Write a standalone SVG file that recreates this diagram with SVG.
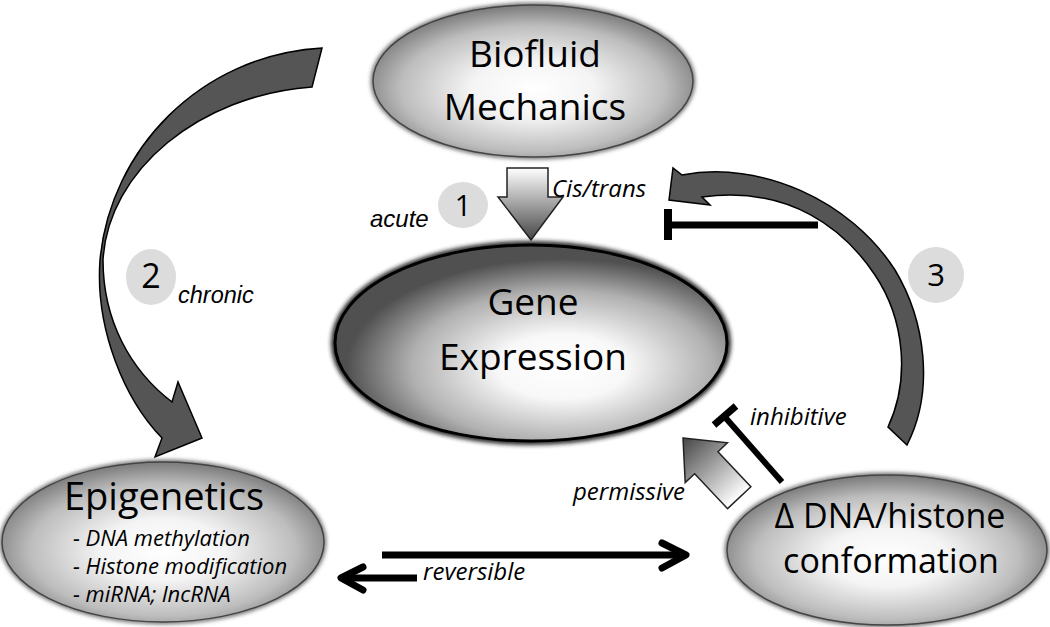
<svg xmlns="http://www.w3.org/2000/svg" width="1050" height="627" viewBox="0 0 1050 627">
<style>
.node{font-family:"Open Sans","Liberation Sans",sans-serif;fill:#000;text-anchor:middle}
.lab{font-family:"Open Sans","Liberation Sans",sans-serif;font-style:italic;fill:#000}
.lab2{font-family:"Liberation Sans",Arial,sans-serif;font-style:italic;fill:#000}
.num{font-family:"Open Sans","Liberation Sans",sans-serif;fill:#000;text-anchor:middle}
.badge{fill:#dcdcdc}
.curve{fill:#555;stroke:#000;stroke-width:1.5;stroke-linejoin:miter}
.line{stroke:#000;stroke-width:7;fill:none}
.chev{stroke:#000;stroke-width:7;fill:none;stroke-linecap:round;stroke-linejoin:round}
.halo{fill:none;filter:url(#blur)}
</style>
<defs>
<filter id="blur" x="-10%" y="-10%" width="120%" height="120%"><feGaussianBlur stdDeviation="2"/></filter>
<radialGradient id="gLight" cx="0.5" cy="0.55" r="0.55">
<stop offset="0" stop-color="#ffffff"/><stop offset="0.35" stop-color="#f4f4f4"/><stop offset="0.75" stop-color="#bdbdbd"/><stop offset="1" stop-color="#7a7a7a"/>
</radialGradient>
<radialGradient id="gDark" cx="0.58" cy="0.62" r="0.55">
<stop offset="0" stop-color="#ffffff"/><stop offset="0.3" stop-color="#f8f8f8"/><stop offset="0.7" stop-color="#b0b0b0"/><stop offset="1" stop-color="#505050"/>
</radialGradient>
<linearGradient id="gDown" x1="0" y1="0" x2="0" y2="1">
<stop offset="0" stop-color="#ffffff"/><stop offset="1" stop-color="#454545"/>
</linearGradient>
<linearGradient id="gUp" x1="0" y1="1" x2="0" y2="0">
<stop offset="0" stop-color="#ffffff"/><stop offset="1" stop-color="#454545"/>
</linearGradient>
</defs>

<g id="connectors">
<path class="curve" d="M322,48 C200,55 110,150 100,260 C95,330 125,400 162,438 L155,457 L202,438 L178,382 L172,402 C130,370 103,320 103,260 C108,170 200,95 312,87 Z"/>
<path class="curve" d="M682,175 C760,160 850,200 895,270 C925,320 935,390 907,445 L888,427 C910,380 905,320 875,275 C845,230 790,185 702,197 L710,205 L669,200 L673,168 Z"/>
<line class="line" x1="668" y1="225" x2="818" y2="225"/>
<line x1="668" y1="209" x2="668" y2="240" stroke="#000" stroke-width="8"/>
<path d="M507,168 L548,168 L548,197 L563,197 L531,240 L498,197 L507,197 Z" fill="url(#gDown)" stroke="#222" stroke-width="1.5"/>
<path transform="translate(683,438) rotate(-43.3)" d="M0,0 L29,34 L16,34 L16,82 L-16,82 L-16,34 L-29,34 Z" fill="url(#gUp)" stroke="#222" stroke-width="1.5"/>
<line x1="782" y1="482" x2="724" y2="416" stroke="#000" stroke-width="6"/>
<line x1="714" y1="425" x2="736" y2="406" stroke="#000" stroke-width="7"/>
<line class="line" x1="382" y1="555" x2="683" y2="555"/>
<polyline class="chev" points="662,543 686,555 662,568"/>
<line class="line" x1="417" y1="578" x2="344" y2="578"/>
<polyline class="chev" points="363,567 341,578 363,590"/>
</g>

<g id="badge1"><ellipse class="badge" cx="463" cy="205" rx="25" ry="23"/><text class="num" x="463" y="216" font-size="29">1</text></g>
<g id="badge2"><ellipse class="badge" cx="151" cy="277" rx="25" ry="28"/><text class="num" x="151" y="288" font-size="34">2</text></g>
<g id="badge3"><ellipse class="badge" cx="936" cy="275" rx="28" ry="28"/><text class="num" x="936" y="286" font-size="31">3</text></g>

<g id="biofluid">
<ellipse class="halo" cx="533" cy="81" rx="160" ry="76" stroke="#555" stroke-width="4"/>
<ellipse cx="533" cy="81" rx="160" ry="76" fill="url(#gLight)" stroke="#444" stroke-width="1.5"/>
<text class="node" x="535" y="67" font-size="37">Biofluid</text>
<text class="node" x="535" y="120" font-size="37">Mechanics</text>
</g>

<g id="gene">
<ellipse class="halo" cx="531" cy="343" rx="197" ry="99" stroke="#222" stroke-width="6"/>
<ellipse cx="531" cy="343" rx="196" ry="98" fill="url(#gDark)" stroke="#000" stroke-width="3"/>
<text class="node" x="533" y="315" font-size="37">Gene</text>
<text class="node" x="533" y="370" font-size="37">Expression</text>
</g>

<g id="epigenetics">
<ellipse class="halo" cx="163" cy="542" rx="161" ry="80" stroke="#555" stroke-width="4"/>
<ellipse cx="163" cy="542" rx="161" ry="80" fill="url(#gLight)" stroke="#444" stroke-width="1.5"/>
<text class="node" x="164" y="510" font-size="38">Epigenetics</text>
<text class="lab" x="73" y="546" font-size="22">- DNA methylation</text>
<text class="lab" x="73" y="574" font-size="22">- Histone modification</text>
<text class="lab" x="73" y="602" font-size="22">- miRNA; lncRNA</text>
</g>

<g id="dna">
<ellipse class="halo" cx="887" cy="550" rx="160" ry="75" stroke="#555" stroke-width="4"/>
<ellipse cx="887" cy="550" rx="160" ry="75" fill="url(#gLight)" stroke="#444" stroke-width="1.5"/>
<text class="node" x="890" y="528" font-size="34">Δ DNA/histone</text>
<text class="node" x="891" y="573" font-size="34">conformation</text>
</g>

<g id="labels">
<text class="lab2" x="370" y="227" font-size="24">acute</text>
<text class="lab" x="552" y="197" font-size="24">Cis/trans</text>
<text class="lab2" x="178" y="303" font-size="23.5">chronic</text>
<text class="lab" x="750" y="425" font-size="24">inhibitive</text>
<text class="lab" x="573" y="500" font-size="24">permissive</text>
<text class="lab" x="423" y="580" font-size="24">reversible</text>
</g>
</svg>
